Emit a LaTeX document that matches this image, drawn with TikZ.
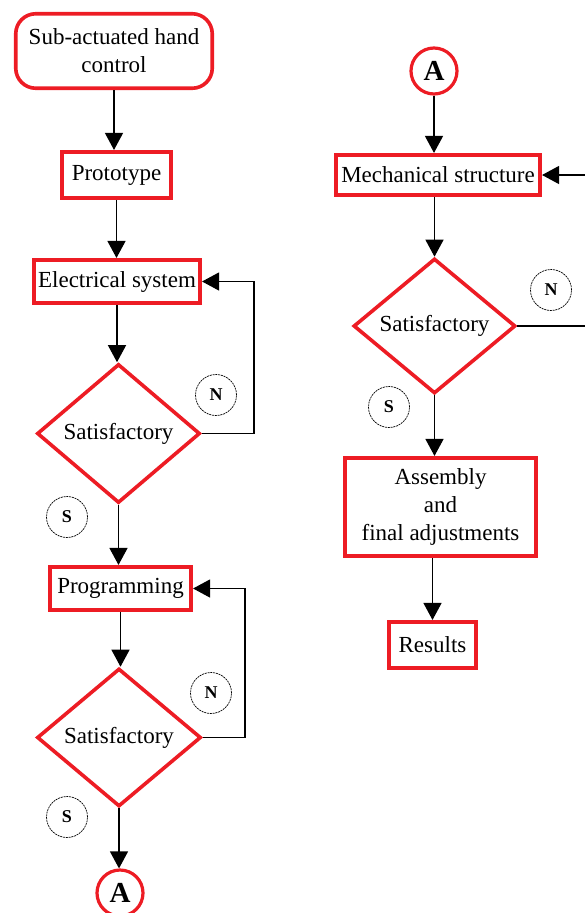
\documentclass[tikz,border=0pt]{standalone}
\usepackage{fontspec}
\setmainfont{Liberation Serif}
\usetikzlibrary{shapes.geometric,arrows.meta}
\definecolor{boxred}{RGB}{237,28,36}
\begin{document}
\begin{tikzpicture}[x=1pt,y=-1pt,
  redbox/.style={draw=boxred,line width=3.6pt,fill=white,inner sep=2pt,align=center,
     font=\fontsize{23}{28}\selectfont},
  decision/.style={draw=boxred,line width=3.6pt,fill=white,shape=diamond,inner sep=0pt,
     font=\fontsize{23}{28}\selectfont},
  connA/.style={draw=boxred,line width=3.2pt,circle,minimum size=46pt,inner sep=0pt,
     font=\fontsize{29}{30}\selectfont\bfseries},
  tag/.style={draw=black,line width=0.7pt,dash pattern=on 2pt off 0.8pt,circle,
     minimum size=41pt,inner sep=0pt,font=\fontsize{18}{18}\selectfont\bfseries},
  arr/.style={draw=black,line width=1.3pt,-{Triangle[width=18pt,length=17pt]}},
  ln/.style={draw=black,line width=1.3pt}]
\useasboundingbox (0,0) rectangle (584,913);
% left column
\node[redbox,rounded corners=20pt,minimum width=196.5pt,minimum height=74.5pt] (start) at (114,51) {Sub-actuated hand\\control};
\node[redbox,minimum width=109.5pt,minimum height=46.5pt] (proto) at (116.5,175) {Prototype};
\node[redbox,minimum width=166.5pt,minimum height=43.5pt] (elec) at (117,281.5) {Electrical system};
\node[decision,minimum width=163pt,minimum height=139pt] (d1) at (118.5,433.5) {Satisfactory};
\node[redbox,minimum width=141.5pt,minimum height=43.5pt] (prog) at (120.5,588.5) {Programming};
\node[decision,minimum width=164pt,minimum height=138pt] (d2) at (119,737.5) {Satisfactory};
\node[connA] (a1) at (120,893) {A};
\node[tag] (n1) at (216,395) {N};
\node[tag] (s1) at (67,517) {S};
\node[tag] (n2) at (211,693) {N};
\node[tag] (s2) at (67,817) {S};
\coordinate (l1) at (254,433.5);
\coordinate (l2) at (245,737.5);
% right column
\node[connA] (a2) at (434,71) {A};
\node[redbox,minimum width=204.5pt,minimum height=40.5pt] (mech) at (438,175) {Mechanical structure};
\node[decision,minimum width=162pt,minimum height=135pt] (d3) at (434.5,326) {Satisfactory};
\node[redbox,minimum width=191.5pt,minimum height=98.5pt] (asm) at (440.5,507) {Assembly\\and\\final adjustments};
\node[redbox,minimum width=87.5pt,minimum height=46.5pt] (res) at (432.5,645) {Results};
\node[tag] (n3) at (551,290) {N};
\node[tag] (s3) at (389,407) {S};
\coordinate (r1) at (610,326);
% connectors left
\draw[arr] (start.south) -- (start.south |- proto.north);
\draw[arr] (proto.south) -- (proto.south |- elec.north);
\draw[arr] (elec.south) -- (elec.south |- d1.north);
\draw[arr] (d1.east) -- (l1) |- (elec.east);
\draw[arr] (d1.south) -- (d1.south |- prog.north);
\draw[arr] (prog.south) -- (prog.south |- d2.north);
\draw[arr] (d2.east) -- (l2) |- (prog.east);
\draw[arr] (d2.south) -- (d2.south |- a1.north);
% connectors right
\draw[arr] (a2.south) -- (a2.south |- mech.north);
\draw[arr] (mech.south -| d3.north) -- (d3.north);
\draw[ln] (d3.east) -- (r1);
\draw[arr] (r1 |- mech.east) -- (mech.east);
\draw[arr] (d3.south) -- (d3.south |- asm.north);
\draw[arr] (asm.south -| res.north) -- (res.north);
\end{tikzpicture}
\end{document}
